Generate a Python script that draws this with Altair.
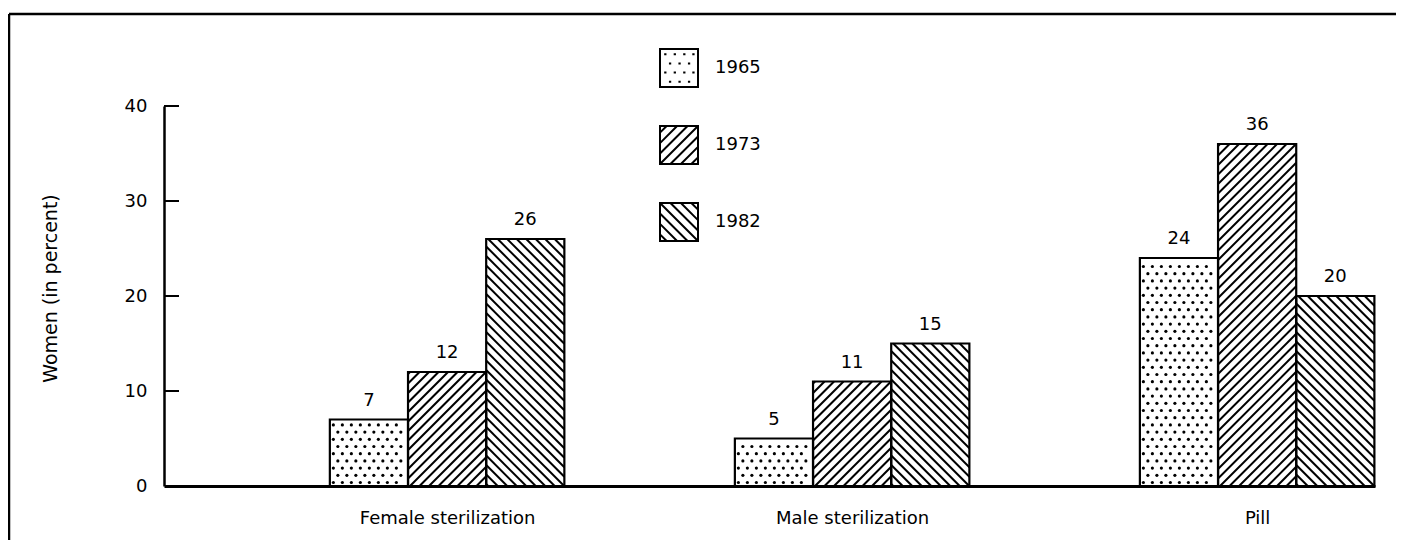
import altair as alt
import pandas as pd

# ---------------- data ----------------
methods = ["Female sterilization", "Male sterilization", "Pill"]
years = ["1965", "1973", "1982"]
pct_1965 = [7, 5, 24]
pct_1973 = [12, 11, 36]
pct_1982 = [26, 15, 20]
y_ticks = [0, 10, 20, 30, 40]
y_title = "Women (in percent)"

# ---------------- layout / style ----------------
W, H = 1211, 380
X_MIN, X_MAX = -0.699, 2.291
Y_MAX = 40
BAR_W = 0.193
PPX = W / (X_MAX - X_MIN)
PPY = H / Y_MAX
FONT = "DejaVu Sans"
FS = 18


def to_px(xd):
    return (xd - X_MIN) * PPX


def to_dx(p):
    return X_MIN + p / PPX


rows = []
for yi, (yr, vals) in enumerate(zip(years, [pct_1965, pct_1973, pct_1982])):
    for mi, m in enumerate(methods):
        x0 = mi + (yi - 1.5) * BAR_W
        rows.append(dict(method=m, year=yr, value=vals[mi], x0=x0,
                         x1=x0 + BAR_W, xc=x0 + BAR_W / 2))
bars = pd.DataFrame(rows)

# hatch / dot fills derived from bar geometry
PERIOD = 9.5
hatch, dots = [], []
for r in rows:
    X0, X1 = to_px(r["x0"]), to_px(r["x1"])
    Y0, Y1 = 0.0, r["value"] * PPY
    if r["year"] == years[0]:
        inset = 3.5
        ri = 0
        yy = Y0 + inset
        while yy <= Y1 - inset + 0.01:
            off = 0 if ri % 2 == 0 else 4.5
            xx = X0 + inset + off
            while xx <= X1 - inset + 0.01:
                dots.append(dict(x=to_dx(xx), y=yy / PPY))
                xx += 9
            yy += 7.2
            ri += 1
    elif r["year"] == years[1]:
        c = X0 - Y1 + 2
        while c < X1 - Y0:
            lo = max(X0, Y0 + c)
            hi = min(X1, Y1 + c)
            if hi - lo > 0.5:
                hatch.append(dict(x=to_dx(lo), x2=to_dx(hi),
                                  y=(lo - c) / PPY, y2=(hi - c) / PPY))
            c += PERIOD
    else:
        c = X0 + Y0 + 2
        while c < X1 + Y1:
            lo = max(X0, c - Y1)
            hi = min(X1, c - Y0)
            if hi - lo > 0.5:
                hatch.append(dict(x=to_dx(lo), x2=to_dx(hi),
                                  y=(c - lo) / PPY, y2=(c - hi) / PPY))
            c += PERIOD
hatch_df = pd.DataFrame(hatch)
dots_df = pd.DataFrame(dots)

# legend symbol paths (unit square -1..1)
SQ = "M-1,-1H1V1H-1Z"
dot_parts = []
for i, yv in enumerate([-0.72, -0.24, 0.24, 0.72]):
    xs = [-0.72, -0.22, 0.28, 0.76] if i % 2 == 0 else [-0.47, 0.03, 0.53]
    for xv in xs:
        dot_parts.append(f"M{xv - 0.06:.2f},{yv:.2f}h0.12")
slash_parts, back_parts = [], []
c = -1.65
while c < 2.0:
    lo, hi = max(-1, c - 1), min(1, c + 1)
    if hi - lo > 0.05:
        slash_parts.append(f"M{lo:.3f},{c - lo:.3f}L{hi:.3f},{c - hi:.3f}")
    lo, hi = max(-1, -1 - c), min(1, 1 - c)
    if hi - lo > 0.05:
        back_parts.append(f"M{lo:.3f},{lo + c:.3f}L{hi:.3f},{hi + c:.3f}")
    c += 0.55
paths = [SQ + "".join(dot_parts), SQ + "".join(slash_parts), SQ + "".join(back_parts)]

label_expr = "[" + ",".join(f"'{m}'" for m in methods) + "][datum.value]"

xscale = alt.Scale(domain=[X_MIN, X_MAX], nice=False, zero=False)
yscale = alt.Scale(domain=[0, Y_MAX], nice=False)

base_bars = alt.Chart(bars).mark_rect(fill="white", strokeWidth=0).encode(
    x=alt.X("x0:Q", scale=xscale, title=None,
            axis=alt.Axis(values=[0, 1, 2], labelExpr=label_expr,
                          tickSize=0, grid=False, labelPadding=23,
                          labelFlush=False, labelOverlap=False, labelBound=False,
                          labelFontSize=FS, labelFont=FONT, labelColor="black",
                          domainColor="black", domainWidth=3)),
    x2="x1:Q",
    y=alt.Y("value:Q", scale=yscale, title=y_title,
            axis=alt.Axis(values=y_ticks, tickSize=0, grid=False,
                          labelPadding=17, labelFontSize=FS, labelFont=FONT,
                          labelColor="black", domainColor="black", domainWidth=2.5,
                          titleFontSize=19, titleFont=FONT, titleFontWeight="normal",
                          titleColor="black", titleX=-104, titleY=H / 2 - 8,
                          titleAngle=270, titleBaseline="bottom", titleAlign="center")),
    y2=alt.datum(0),
)

hatch_layer = alt.Chart(hatch_df).mark_rule(color="black", strokeWidth=2).encode(
    x=alt.X("x:Q"), x2="x2:Q",
    y=alt.Y("y:Q"), y2="y2:Q",
)

dot_layer = alt.Chart(dots_df).mark_point(filled=True, shape="circle", size=10,
                                          color="black", opacity=1).encode(
    x=alt.X("x:Q"),
    y=alt.Y("y:Q"),
)

outline = alt.Chart(bars).mark_rect(fillOpacity=0, stroke="black", strokeWidth=2.2).encode(
    x=alt.X("x0:Q"), x2="x1:Q",
    y=alt.Y("value:Q"), y2=alt.datum(0),
)

labels = alt.Chart(bars).mark_text(font=FONT, fontSize=FS, color="black",
                                   baseline="alphabetic", dy=-14).encode(
    x=alt.X("xc:Q"),
    y=alt.Y("value:Q"),
    text="value:Q",
)

tick_rules = alt.Chart(pd.DataFrame({"t": y_ticks[1:]})).mark_rule(
    color="black", strokeWidth=2).encode(
    y=alt.Y("t:Q"), x=alt.value(0), x2=alt.value(15),
)

legend_layer = alt.Chart(bars).transform_filter("false").mark_point(
    filled=False, color="black", strokeWidth=2, size=1444, opacity=1
).encode(
    x=alt.X("xc:Q"),
    y=alt.Y("value:Q"),
    shape=alt.Shape("year:N", scale=alt.Scale(domain=years, range=paths),
                    legend=alt.Legend(orient="none", legendX=495, legendY=-58,
                                      title=None, padding=0, symbolSize=1444,
                                      symbolStrokeColor="black",
                                      symbolStrokeWidth=2, symbolOpacity=1,
                                      labelFont=FONT, labelFontSize=FS,
                                      labelColor="black", labelOffset=16,
                                      rowPadding=31)),
)

frame_left = alt.Chart(alt.Data(values=[{}])).mark_rule(color="black", strokeWidth=2.5).encode(
    x=alt.value(-155), y=alt.value(-92), y2=alt.value(434))
frame_top = alt.Chart(alt.Data(values=[{}])).mark_rule(color="black", strokeWidth=2.5).encode(
    x=alt.value(-155), x2=alt.value(1232), y=alt.value(-92))

chart = alt.layer(
    base_bars, hatch_layer, dot_layer, outline, labels, tick_rules,
    legend_layer, frame_left, frame_top,
).properties(
    width=W, height=H,
    padding={"left": 156, "top": 98, "right": 21, "bottom": 54},
    autosize=alt.AutoSizeParams(type="none"),
).configure(font=FONT, background="white").configure_view(strokeWidth=0)

chart.save("out.html", embed_options={"renderer": "svg", "actions": False})
